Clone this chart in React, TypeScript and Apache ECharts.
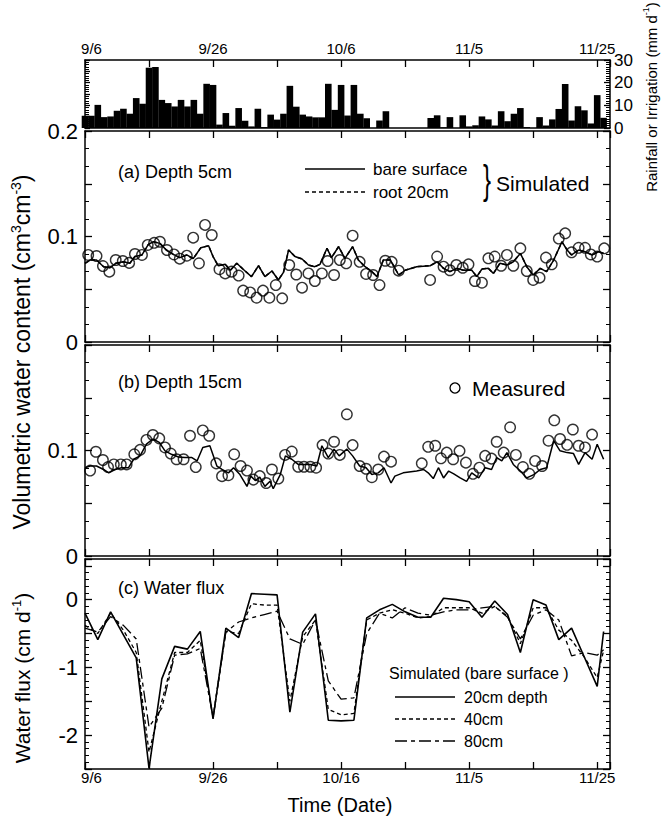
import React, { useEffect, useRef } from 'react';
import * as echarts from 'echarts';

// ---------- tick labels ----------
const DATE_TICK_DAYS = [0, 20, 40, 60, 80];
const TOP_DATE_LABELS = ['9/6', '9/26', '10/6', '11/5', '11/25'];
const BOTTOM_DATE_LABELS = ['9/6', '9/26', '10/16', '11/5', '11/25'];
const RAIN_TICK_VALUES = [0, 10, 20, 30];
const VWC_TICK_VALUES = [0, 0.1, 0.2];
const VWC_TICK_TEXT = ['0', '0.1', '0.2'];
const FLUX_TICK_VALUES = [0, -1, -2];
const FLUX_TICK_TEXT = ['0', '-1', '-2'];

// ---------- daily rainfall / irrigation (mm/d), index = days after 9/6 ----------
const RAIN_MM = [
  5.4, 5.4, 10.2, 4.8, 5.1, 7.6, 8.5, 6.3, 13.2, 10.7,
  26.6, 26.9, 12.4, 11.0, 9.5, 12.4, 9.5, 12.4, 6.3, 19.5,
  19.0, 1.5, 6.6, 1.0, 8.8, 3.2, 0.7, 8.5, 0.4, 5.9,
  3.7, 6.3, 18.6, 9.4, 5.9, 5.1, 4.7, 4.7, 19.5, 8.0,
  19.0, 5.5, 19.0, 6.3, 4.3, 0, 3.3, 7.4, 0, 0,
  0, 0, 0, 0, 4.4, 5.6, 0.3, 4.8, 0, 5.6,
  0.7, 1.2, 5.1, 3.8, 1.1, 7.4, 3.0, 6.3, 8.8, 0.4,
  0, 4.8, 1.1, 3.8, 8.4, 19.4, 3.3, 9.6, 7.8, 2.0,
  14.5, 4.5,
];

// ---------- (a) depth 5 cm: [day, value] ----------
const A_MEASURED: [number, number][] = [
  [0.5, .0825], [1.8, .0815], [2.8, .072], [3.8, .0667], [4.8, .0777], [5.9, .0768], [6.9, .075], [7.8, .0834],
  [8.9, .0825], [9.8, .092], [10.8, .094], [11.7, .095], [12.8, .0872], [13.9, .083], [14.8, .079], [15.9, .0818],
  [16.9, .0989], [17.8, .0746], [18.75, .111], [19.8, .1014], [21.0, .069], [21.9, .065], [22.9, .0667], [24.0, .063],
  [24.7, .0487], [25.8, .047], [26.8, .042], [27.8, .0487], [28.8, .042], [29.8, .054], [30.8, .0414], [31.9, .073],
  [33.0, .064], [33.9, .0515], [34.9, .065], [35.9, .0578], [37.0, .065], [37.9, .0768], [38.9, .0635], [39.8, .0777],
  [40.8, .0746], [41.8, .1008], [42.9, .076], [43.9, .0645], [45.0, .0635], [46.0, .054], [46.9, .077], [47.9, .076],
  [49.0, .0676], [53.9, .0588], [55.0, .081], [56.0, .0714], [57.0, .068], [58.0, .073], [59.0, .0704], [59.9, .0736],
  [60.9, .0578], [62.0, .0562], [63.0, .0793], [64.0, .081], [65.0, .0723], [65.9, .0825], [66.9, .0723], [68.0, .0888],
  [69.0, .0673], [70.0, .0588], [71.0, .061], [72.0, .08], [72.9, .0736], [74.0, .098], [75.0, .103], [76.0, .085],
  [77.1, .0893], [78.1, .0893], [79.0, .083], [80.0, .081], [81.1, .0888],
];
const A_BARE: [number, number][] = [
  [0, .0746], [0.8, .0777], [1.8, .0777], [2.9, .0714], [3.9, .0704], [4.8, .0746], [6, .076], [7, .0746], [7.8, .081], [8.9, .0825],
  [9.9, .0926], [10.7, .095], [11.7, .0935], [12.7, .0872], [13.8, .083], [14.8, .080], [15.9, .0825], [16.9, .079], [18.1, .0894], [19.3, .0913],
  [20, .081], [20.8, .0723], [21.9, .0736], [22.7, .068], [23.7, .0746], [25, .0673], [26, .062], [27.1, .0723], [28.1, .062], [29.2, .0673],
  [30.2, .0588], [31, .066], [31.8, .0872], [32.8, .081], [33.9, .0787], [34.9, .073], [35.9, .0714], [36.7, .0736], [37.8, .0888], [38.5, .080],
  [39.6, .0903], [40.6, .0793], [41.8, .0903], [42.7, .0777], [43.75, .0714], [44.8, .0667], [45.6, .062], [46.6, .0777], [47.7, .0777], [49, .0635],
  [50, .068], [51.8, .0714], [53.9, .0723], [55, .076], [56, .0698], [57, .0667], [58.1, .0698], [59.1, .068], [60.4, .068], [61.2, .062],
  [62, .0692], [63, .0698], [63.8, .065], [64.8, .0746], [65.9, .073], [66.9, .076], [68, .084], [69, .0714], [70, .0635], [71.1, .0698],
  [72.1, .0667], [73.2, .0777], [74.5, .095], [75.3, .0872], [76, .0825], [77.1, .0872], [78.1, .0856], [79.2, .0825], [80.2, .0856], [81, .084],
];
const A_ROOT20 = A_BARE; // coincides with the bare-surface curve in the figure

// ---------- (b) depth 15 cm ----------
const B_MEASURED: [number, number][] = [
  [0.8, .081], [1.7, .0988], [2.8, .091], [3.6, .0843], [4.5, .0868], [5.6, .0868], [6.5, .0868], [7.7, .0964],
  [8.6, .1006], [9.6, .11], [10.6, .1147], [11.6, .1115], [12.5, .1029], [13.4, .0971], [14.3, .0917], [15.4, .0917],
  [16.4, .114], [17.3, .0843], [18.4, .119], [19.4, .114], [20.5, .0878], [21.4, .0757], [22.4, .0766], [23.3, .0964],
  [24.3, .0853], [25.3, .081], [26.3, .0724], [27.3, .0757], [28.3, .0692], [29.2, .082], [30.2, .0734], [31.25, .0958],
  [32.3, .099], [33.3, .0846], [34.2, .0846], [35.2, .0846], [36.1, .0837], [37.1, .1051], [38.0, .0971], [38.9, .1083],
  [39.8, .0958], [40.9, .1343], [41.8, .1051], [42.9, .0853], [43.9, .0827], [44.8, .0747], [45.8, .082], [46.7, .0942],
  [47.8, .0894], [52.6, .0878], [53.6, .1035], [54.7, .1045], [55.6, .0926], [56.5, .098], [57.5, .0917], [58.5, .0997],
  [59.5, .0885], [60.6, .0779], [61.6, .0837], [62.5, .0949], [63.5, .0923], [64.3, .1083], [65.4, .098], [66.4, .122],
  [67.3, .0958], [68.4, .0843], [69.4, .0779], [70.3, .0901], [71.4, .0853], [72.4, .1093], [73.3, .1286], [74.2, .1109],
  [75.3, .1054], [76.2, .1199], [77.1, .1045], [78.1, .1029], [79.2, .1151],
];
const B_BARE: [number, number][] = [
  [0, .0837], [0.8, .0853], [1.8, .0853], [2.9, .082], [3.7, .0788], [4.7, .082], [5.7, .0837], [6.8, .0837], [7.6, .0917], [8.6, .0949],
  [9.6, .106], [10.6, .1109], [11.6, .1077], [12.5, .0997], [13.5, .0964], [14.6, .0939], [15.6, .0933], [16.7, .0933], [17.5, .0901], [18.4, .1029],
  [19.5, .1045], [20.6, .0853], [21.4, .082], [22.4, .0788], [23.2, .0837], [24.2, .0772], [25.3, .066], [25.9, .0757], [26.6, .0715], [27.3, .0747],
  [28.1, .066], [28.9, .0708], [29.4, .0638], [30.5, .0772], [31.3, .0949], [32.3, .0917], [33.3, .0868], [35.2, .0868], [36.2, .0853], [37, .1045],
  [38, .0933], [38.9, .1013], [39.7, .0949], [40.9, .1013], [41.8, .0949], [42.9, .0853], [43.9, .0837], [44.8, .0772], [45.8, .0788], [46.7, .0837],
  [47.8, .0692], [48.4, .0757], [49.7, .0788], [51.8, .0805], [52.9, .082], [53.6, .0788], [54.4, .0734], [55.2, .0837], [56, .074], [56.8, .0805],
  [57.6, .0779], [58.6, .074], [59.6, .0708], [60.4, .0788], [61.5, .074], [62.5, .0837], [63.5, .082], [64.3, .0933], [65.1, .0901], [65.9, .098],
  [66.9, .0868], [68, .0805], [69, .074], [70.1, .0772], [71.1, .082], [72.1, .0837], [73.2, .1093], [74.2, .0997], [75.3, .098], [76.3, .0971],
  [77.1, .0868], [78.1, .098], [79.2, .0917], [80, .106], [81, .0917],
];

// ---------- (c) water flux (cm/d) ----------
const FLUX_DAYS = [
  0, 2, 4, 6, 8, 10, 12, 14, 16, 18, 20, 22, 24, 26, 28, 30, 32, 34, 36, 38, 40,
  42, 44, 46, 48, 50, 52, 54, 56, 58, 60, 62, 64, 66, 68, 70, 72, 74, 76, 78, 80, 81,
];
const FLUX_20CM = [
  -0.2, -0.59, -0.18, -0.52, -0.86, -2.49, -1.17, -0.69, -0.73, -0.47, -1.76,
  -0.42, -0.56, 0.09, 0.08, 0.07, -1.66, -0.48, -0.21, -1.78, -1.79,
  -1.78, -0.27, -0.15, -0.07, -0.18, -0.26, -0.26, 0.02, 0.0, -0.03,
  -0.26, -0.02, -0.22, -0.78, 0.0, -0.08, -0.59, -0.42, -0.85, -1.28, -0.47,
];
const FLUX_40CM = [
  -0.38, -0.5, -0.2, -0.45, -0.78, -2.25, -1.5, -0.78, -0.78, -0.6, -1.74,
  -0.47, -0.5, -0.06, -0.08, -0.08, -1.5, -0.55, -0.3, -1.62, -1.7,
  -1.68, -0.3, -0.2, -0.15, -0.2, -0.27, -0.25, -0.12, -0.12, -0.12,
  -0.2, -0.1, -0.25, -0.65, -0.12, -0.12, -0.45, -0.6, -0.85, -1.15, -0.75,
];
const FLUX_80CM = [
  -0.42, -0.48, -0.25, -0.38, -0.58, -1.88, -1.6, -0.82, -0.8, -0.72, -1.74,
  -0.48, -0.33, -0.27, -0.22, -0.17, -0.58, -0.66, -0.3, -1.2, -1.47,
  -1.45, -0.5, -0.2, -0.27, -0.12, -0.2, -0.23, -0.18, -0.15, -0.15,
  -0.12, -0.1, -0.26, -0.58, -0.23, -0.15, -0.3, -0.83, -0.78, -0.82, -0.74,
];

const FONT = '"Liberation Sans", Arial, Helvetica, sans-serif';
const BLACK = '#000';

function pick(values: number[], texts: string[], v: number): string {
  for (let i = 0; i < values.length; i++) {
    if (Math.abs(values[i] - v) < 1e-9) return texts[i];
  }
  return '';
}

function xAxis(gridIndex: number, position: 'top' | 'bottom', labels: string[] | null, margin: number, ticks = true) {
  return {
    type: 'value',
    gridIndex,
    position,
    min: 0,
    max: 82,
    interval: 10,
    axisLine: { show: true, onZero: false, lineStyle: { color: BLACK, width: 1.5 } },
    axisTick: { show: ticks, inside: true, length: 7, lineStyle: { color: BLACK, width: 1.3 } },
    minorTick: { show: false },
    splitLine: { show: false },
    axisLabel: labels
      ? {
          show: true,
          margin,
          color: BLACK,
          fontSize: 15,
          fontFamily: FONT,
          showMinLabel: true,
          showMaxLabel: true,
          formatter: (v: number) => {
            const t = pick(DATE_TICK_DAYS, labels, v);
            if (!t) return '';
            return v === 0 ? `{first|${t}}` : t;
          },
          rich: {
            first: { padding: [0, 0, 0, 13], fontSize: 15, fontFamily: FONT, color: BLACK },
          },
        }
      : { show: false },
  };
}

function yAxis(
  gridIndex: number,
  position: 'left' | 'right',
  min: number,
  max: number,
  interval: number,
  minorSplit: number,
  label: ((v: number) => string) | null,
  fontSize: number,
  margin: number,
  tickLen = 7,
) {
  return {
    type: 'value',
    gridIndex,
    position,
    min,
    max,
    interval,
    axisLine: { show: true, onZero: false, lineStyle: { color: BLACK, width: 1.5 } },
    axisTick: { show: true, inside: true, length: tickLen, lineStyle: { color: BLACK, width: 1.3 } },
    minorTick: { show: true, splitNumber: minorSplit, length: 4, lineStyle: { color: BLACK, width: 1 } },
    splitLine: { show: false },
    minorSplitLine: { show: false },
    axisLabel: label
      ? {
          show: true,
          margin,
          color: BLACK,
          fontSize,
          fontFamily: FONT,
          showMinLabel: true,
          showMaxLabel: true,
          formatter: label,
        }
      : { show: false },
  };
}

function txt(x: number, y: number, text: string, fontSize: number, align = 'left', extra: any = {}, el: any = {}) {
  return {
    type: 'text',
    x,
    y,
    silent: true,
    ...el,
    style: {
      text,
      fontSize,
      fontFamily: FONT,
      fill: BLACK,
      align,
      verticalAlign: 'middle',
      ...extra,
    },
  };
}

function segment(x1: number, x2: number, y: number, dash: number[] | null) {
  return {
    type: 'line',
    silent: true,
    shape: { x1, y1: y, x2, y2: y },
    style: { stroke: BLACK, lineWidth: 1.5, lineDash: dash || undefined },
  };
}

function rotatedTitle(x: number, y: number, text: string, fontSize: number, supSize: number) {
  return {
    type: 'text',
    x,
    y,
    rotation: Math.PI / 2,
    silent: true,
    style: {
      text,
      fontSize,
      fontFamily: FONT,
      fill: BLACK,
      align: 'center',
      verticalAlign: 'middle',
      rich: {
        n: { fontSize, fontFamily: FONT, fill: BLACK, lineHeight: fontSize + 2, verticalAlign: 'bottom' },
        s: {
          fontSize: supSize,
          fontFamily: FONT,
          fill: BLACK,
          lineHeight: supSize,
          verticalAlign: 'top',
          padding: [0, 0, Math.round(fontSize * 0.5), 0],
        },
      },
    },
  };
}

export default function App() {
  const ref = useRef<HTMLDivElement>(null);

  useEffect(() => {
    if (!ref.current) return;
    const chart = echarts.init(ref.current, undefined, { renderer: 'svg' });

    const vwcLabel = (v: number) => pick(VWC_TICK_VALUES, VWC_TICK_TEXT, v);
    const vwcLabelNoTop = (v: number) => (v > 0.15 ? '' : pick(VWC_TICK_VALUES, VWC_TICK_TEXT, v));
    const fluxLabel = (v: number) => pick(FLUX_TICK_VALUES, FLUX_TICK_TEXT, v);
    const rainLabel = (v: number) => (RAIN_TICK_VALUES.includes(v) ? String(v) : '');

    const gridBase = { left: 85, right: 51, containLabel: false, outerBoundsMode: 'none', show: false };

    const option: any = {
      animation: false,
      backgroundColor: '#fff',
      textStyle: { fontFamily: FONT, color: BLACK },
      grid: [
        { ...gridBase, top: 60, height: 68 },
        { ...gridBase, top: 131, height: 211 },
        { ...gridBase, top: 345, height: 211 },
        { ...gridBase, top: 559, height: 210 },
      ],
      xAxis: [
        xAxis(0, 'bottom', null, 0, false),
        xAxis(0, 'top', TOP_DATE_LABELS, 4),
        xAxis(1, 'bottom', null, 0),
        xAxis(1, 'top', null, 0),
        xAxis(2, 'bottom', null, 0),
        xAxis(2, 'top', null, 0),
        xAxis(3, 'bottom', BOTTOM_DATE_LABELS, 1),
        xAxis(3, 'top', null, 0),
      ],
      yAxis: [
        yAxis(0, 'left', 0, 30, 5, 5, null, 0, 0, 5),
        yAxis(0, 'right', 0, 30, 10, 10, rainLabel, 17, 4, 6),
        yAxis(1, 'left', 0, 0.2, 0.05, 3, vwcLabel, 22, 7),
        yAxis(1, 'right', 0, 0.2, 0.05, 3, null, 0, 0),
        yAxis(2, 'left', 0, 0.2, 0.05, 3, vwcLabelNoTop, 22, 7),
        yAxis(2, 'right', 0, 0.2, 0.05, 3, null, 0, 0),
        yAxis(3, 'left', -2.5, 0.6, 0.5, 5, fluxLabel, 22, 7),
        yAxis(3, 'right', -2.5, 0.6, 0.5, 5, null, 0, 0),
      ],
      series: [
        {
          name: 'Rainfall or Irrigation',
          type: 'bar',
          xAxisIndex: 0,
          yAxisIndex: 0,
          barWidth: 6.6,
          clip: true,
          itemStyle: { color: BLACK },
          data: RAIN_MM.map((v, i) => [i, v]),
        },
        {
          name: 'a root 20cm',
          type: 'line',
          xAxisIndex: 2,
          yAxisIndex: 2,
          symbol: 'none',
          z: 2,
          lineStyle: { color: BLACK, width: 1.5, type: [4, 3] },
          data: A_ROOT20,
        },
        {
          name: 'a bare surface',
          type: 'line',
          xAxisIndex: 2,
          yAxisIndex: 2,
          symbol: 'none',
          z: 3,
          lineStyle: { color: BLACK, width: 1.5 },
          data: A_BARE,
        },
        {
          name: 'a measured',
          type: 'scatter',
          xAxisIndex: 2,
          yAxisIndex: 2,
          symbol: 'circle',
          symbolSize: 10.5,
          z: 4,
          itemStyle: { color: 'rgba(0,0,0,0)', borderColor: BLACK, borderWidth: 1.4 },
          data: A_MEASURED,
        },
        {
          name: 'b bare surface',
          type: 'line',
          xAxisIndex: 4,
          yAxisIndex: 4,
          symbol: 'none',
          z: 3,
          lineStyle: { color: BLACK, width: 1.5 },
          data: B_BARE,
        },
        {
          name: 'b measured',
          type: 'scatter',
          xAxisIndex: 4,
          yAxisIndex: 4,
          symbol: 'circle',
          symbolSize: 10.5,
          z: 4,
          itemStyle: { color: 'rgba(0,0,0,0)', borderColor: BLACK, borderWidth: 1.4 },
          data: B_MEASURED,
        },
        {
          name: '80cm',
          type: 'line',
          xAxisIndex: 6,
          yAxisIndex: 6,
          symbol: 'none',
          lineStyle: { color: BLACK, width: 1.3, type: [12, 4, 4, 4] },
          data: FLUX_DAYS.map((d, i) => [d, FLUX_80CM[i]]),
        },
        {
          name: '40cm',
          type: 'line',
          xAxisIndex: 6,
          yAxisIndex: 6,
          symbol: 'none',
          lineStyle: { color: BLACK, width: 1.3, type: [4, 3] },
          data: FLUX_DAYS.map((d, i) => [d, FLUX_40CM[i]]),
        },
        {
          name: '20cm depth',
          type: 'line',
          xAxisIndex: 6,
          yAxisIndex: 6,
          symbol: 'none',
          lineStyle: { color: BLACK, width: 1.6 },
          data: FLUX_DAYS.map((d, i) => [d, FLUX_20CM[i]]),
        },
      ],
      graphic: [
        // panel (a)
        txt(118, 172, '(a) Depth 5cm', 18),
        segment(305, 365, 169, null),
        segment(305, 365, 192, [4, 3]),
        txt(373, 169, 'bare surface', 17),
        txt(373, 192, 'root 20cm', 17),
        txt(487, 180, '}', 40, 'center', {}, { scaleX: 0.6 }),
        txt(496, 183, 'Simulated', 21),
        // panel (b)
        txt(118, 382, '(b) Depth 15cm', 18),
        {
          type: 'circle',
          silent: true,
          shape: { cx: 455, cy: 388, r: 5 },
          style: { fill: 'none', stroke: BLACK, lineWidth: 1.3 },
        },
        txt(472, 388, 'Measured', 21),
        // panel (c)
        txt(118, 588, '(c) Water flux', 18),
        txt(389, 673, 'Simulated (bare surface )', 16),
        segment(395, 455, 697, null),
        segment(395, 455, 719, [4, 3]),
        segment(395, 455, 741, [12, 4, 4, 4]),
        txt(464, 697, '20cm depth', 16),
        txt(464, 719, '40cm', 16),
        txt(464, 741, '80cm', 16),
        // axis titles
        rotatedTitle(21, 352, '{n|Volumetric water content (cm}{s|3}{n|cm}{s|-3}{n|)}', 23, 14),
        rotatedTitle(21, 678, '{n|Water flux (cm d}{s|-1}{n|)}', 21, 13),
        rotatedTitle(650, 97, '{n|Rainfall or Irrigation (mm d}{s|-1}{n|)}', 15, 9),
        txt(340, 805, 'Time (Date)', 20, 'center'),
      ],
    };

    chart.setOption(option);
    return () => chart.dispose();
  }, []);

  return (
    <div
      ref={ref}
      style={{ position: 'absolute', left: 0, top: 0, width: 661, height: 819, background: '#fff' }}
    />
  );
}
